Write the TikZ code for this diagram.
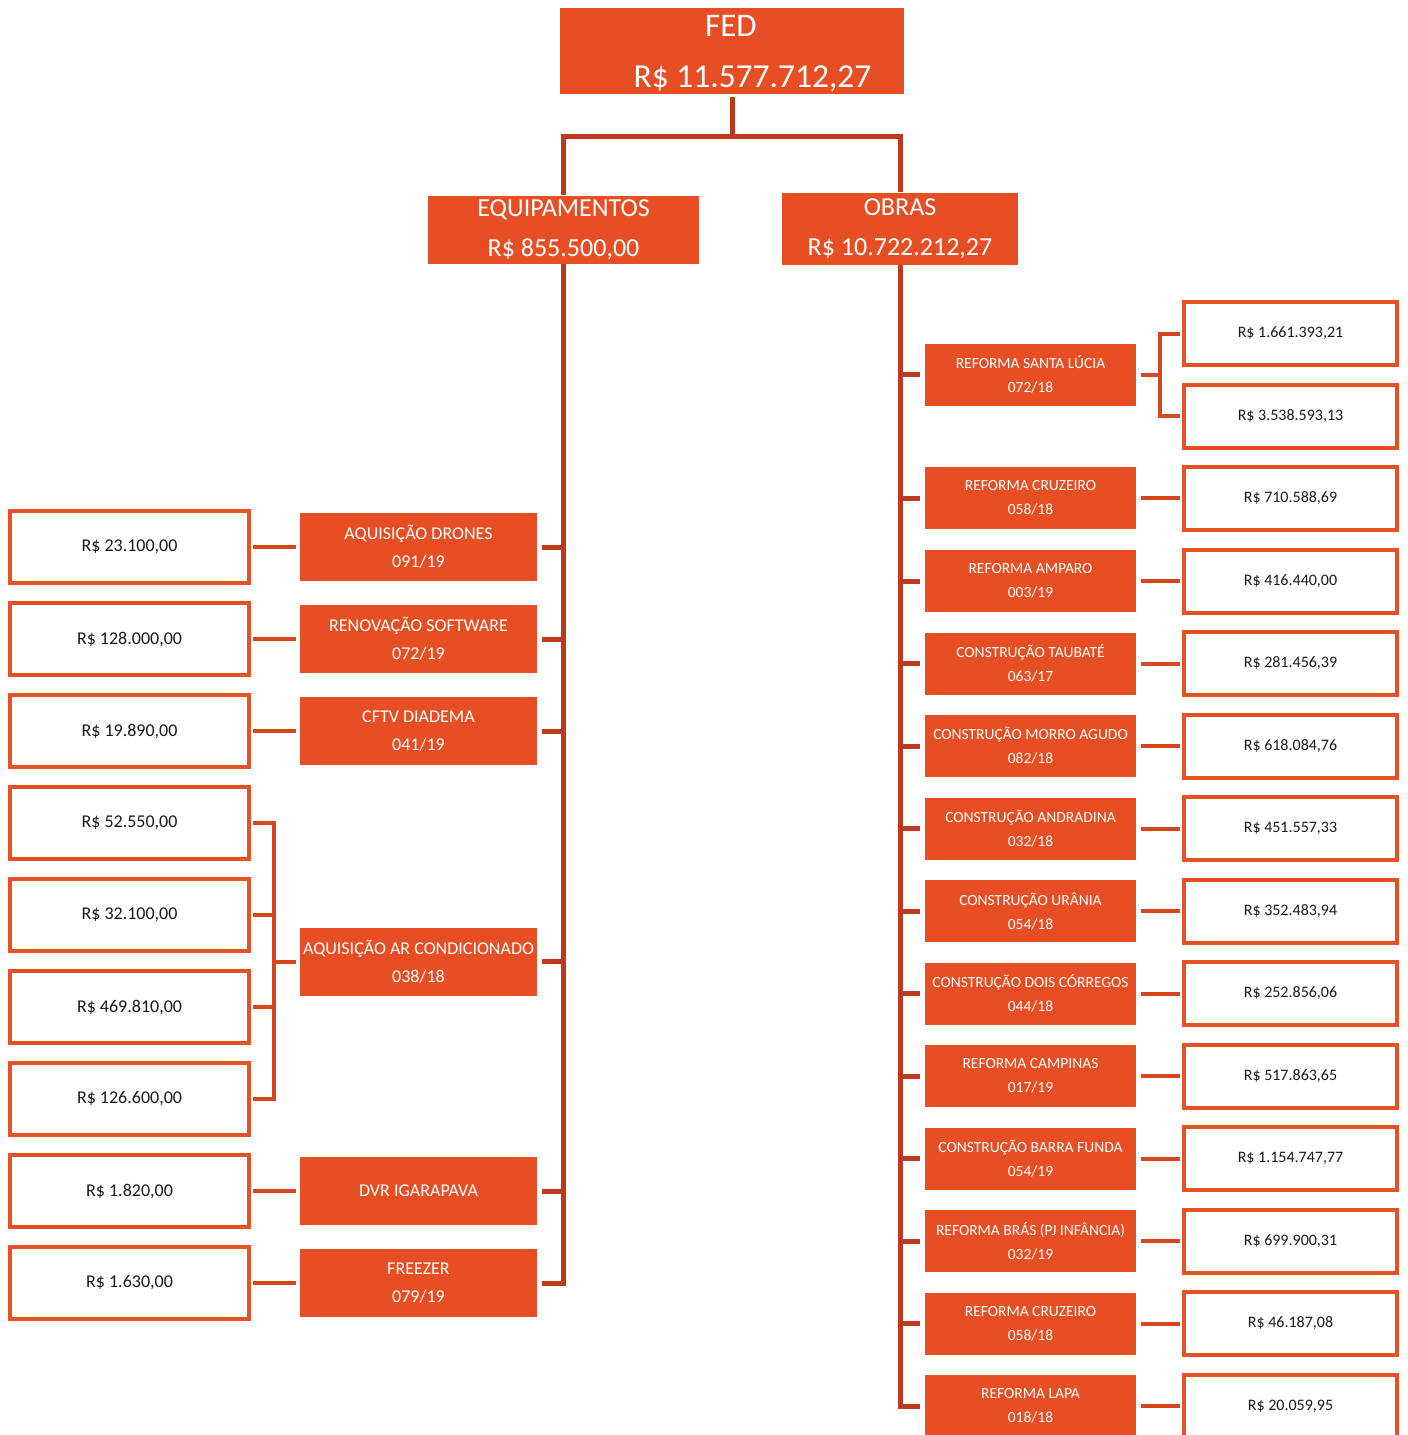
\documentclass[tikz,border=0pt]{standalone}
\usepackage{fontspec}
\setmainfont{Carlito}
\definecolor{org}{HTML}{E84E24}
\definecolor{orgline}{HTML}{E65226}
\definecolor{linkc}{HTML}{D6461F}
\definecolor{dark}{HTML}{BE3A1E}
\definecolor{txt}{HTML}{1A1A1A}
\begin{document}
\begin{tikzpicture}[x=1pt,y=-1pt,
  headbox/.style={fill=org, text=white, inner sep=0pt, align=center},
  lvlone/.style={headbox, font=\fontsize{26}{40}\selectfont},
  eqbox/.style={headbox, minimum width=237pt, minimum height=68pt, font=\fontsize{18}{28}\selectfont},
  obbox/.style={headbox, minimum width=211pt, minimum height=62pt, font=\fontsize{15.5}{24}\selectfont},
  lleaf/.style={draw=orgline, line width=4pt, fill=white, text=txt, inner sep=0pt, minimum width=239pt, minimum height=72pt, font=\fontsize{18}{22}\selectfont},
  rleaf/.style={draw=orgline, line width=4pt, fill=white, text=txt, inner sep=0pt, minimum width=213pt, minimum height=63pt, font=\fontsize{16}{20}\selectfont},
  trunk/.style={draw=dark, line width=5pt},
  stubline/.style={draw=dark, line width=5pt, shorten >=5pt},
  link/.style={draw=linkc, line width=4pt},
]
\useasboundingbox (0,0) rectangle (1408,1435);
\fill[white] (0,0) rectangle (1408,1435);
\clip (0,0) rectangle (1408,1435);

% ---------- top ----------
\node[headbox, minimum width=344pt, minimum height=86pt] (fed) at (732,51) {};
\node[text=white, anchor=base, inner sep=0pt, font=\fontsize{33}{33}\selectfont] (fedt) at (731,36) {FED};
\node[text=white, anchor=base, inner sep=0pt, font=\fontsize{33.5}{33}\selectfont] (fedv) at (752.5,87) {R\$ 11.577.712,27};

\node[lvlone, minimum width=271pt, minimum height=68pt] (equip) at (563.5,229.5) {EQUIPAMENTOS\\R\$ 855.500,00};
\node[lvlone, minimum width=236pt, minimum height=72pt] (obras) at (900,228.5) {OBRAS\\R\$ 10.722.212,27};

\coordinate (split) at (732,136);
\draw[trunk, shorten <=3pt] (fed.south) -- (split);
\draw[trunk] (equip.north) |- (split) -| (obras.north);

% ---------- left level 2 ----------
\node[eqbox] (drones) at (418.5,547) {AQUISIÇÃO DRONES\\091/19};
\node[eqbox] (soft) at (418.5,639) {RENOVAÇÃO SOFTWARE\\072/19};
\node[eqbox] (cftv) at (418.5,731) {CFTV DIADEMA\\041/19};
\node[eqbox] (ar) at (418.5,961.5) {AQUISIÇÃO AR CONDICIONADO\\038/18};
\node[eqbox] (dvr) at (418.5,1191) {DVR IGARAPAVA};
\node[eqbox] (freezer) at (418.5,1283) {FREEZER\\079/19};

% ---------- left leaves ----------
\node[lleaf] (v23) at (129.5,547) {R\$ 23.100,00};
\node[lleaf] (v128) at (129.5,639) {R\$ 128.000,00};
\node[lleaf] (v19) at (129.5,731) {R\$ 19.890,00};
\node[lleaf] (v52) at (129.5,823) {R\$ 52.550,00};
\node[lleaf] (v32) at (129.5,915) {R\$ 32.100,00};
\node[lleaf] (v469) at (129.5,1007) {R\$ 469.810,00};
\node[lleaf] (v126) at (129.5,1099) {R\$ 126.600,00};
\node[lleaf] (v1820) at (129.5,1191) {R\$ 1.820,00};
\node[lleaf] (v1630) at (129.5,1283) {R\$ 1.630,00};

% left trunk
\draw[trunk] (equip.south) -- (equip.south |- freezer.east) -- ([xshift=5pt]freezer.east);
\foreach \n in {drones,soft,cftv,ar,dvr}{
  \draw[stubline] (equip.south |- \n.east) -- (\n.east);
}
% left links
\foreach \a/\b in {drones/v23,soft/v128,cftv/v19,dvr/v1820,freezer/v1630}{
  \draw[link, shorten <=4pt, shorten >=2pt] (\a.west) -- (\b.east);
}
\coordinate (brL) at (274,961.5);
\draw[link, shorten <=2pt, shorten >=2pt] (v52.east) -| (brL) |- (v126.east);
\draw[link, shorten <=2pt] (v32.east) -- (v32.east -| brL);
\draw[link, shorten <=2pt] (v469.east) -- (v469.east -| brL);
\draw[link, shorten <=4pt] (ar.west) -- (brL);

% ---------- right level 2 ----------
\node[obbox] (sl) at (1030.5,374.5) {REFORMA SANTA LÚCIA\\072/18};
\node[obbox] (cruz) at (1030.5,498) {REFORMA CRUZEIRO\\058/18};
\node[obbox] (amp) at (1030.5,581) {REFORMA AMPARO\\003/19};
\node[obbox] (taub) at (1030.5,663.5) {CONSTRUÇÃO TAUBATÉ\\063/17};
\node[obbox] (morro) at (1030.5,746) {CONSTRUÇÃO MORRO AGUDO\\082/18};
\node[obbox] (andr) at (1030.5,828.5) {CONSTRUÇÃO ANDRADINA\\032/18};
\node[obbox] (uran) at (1030.5,911) {CONSTRUÇÃO URÂNIA\\054/18};
\node[obbox] (dois) at (1030.5,993.5) {CONSTRUÇÃO DOIS CÓRREGOS\\044/18};
\node[obbox] (camp) at (1030.5,1076) {REFORMA CAMPINAS\\017/19};
\node[obbox] (barra) at (1030.5,1158.5) {CONSTRUÇÃO BARRA FUNDA\\054/19};
\node[obbox] (bras) at (1030.5,1241) {REFORMA BRÁS (PJ INFÂNCIA)\\032/19};
\node[obbox] (cruz2) at (1030.5,1323.5) {REFORMA CRUZEIRO\\058/18};
\node[obbox] (lapa) at (1030.5,1406) {REFORMA LAPA\\018/18};

% ---------- right leaves ----------
\node[rleaf] (r1661) at (1290.5,333.5) {R\$ 1.661.393,21};
\node[rleaf] (r3538) at (1290.5,416) {R\$ 3.538.593,13};
\node[rleaf] (r710) at (1290.5,498) {R\$ 710.588,69};
\node[rleaf] (r416) at (1290.5,581) {R\$ 416.440,00};
\node[rleaf] (r281) at (1290.5,663.5) {R\$ 281.456,39};
\node[rleaf] (r618) at (1290.5,746) {R\$ 618.084,76};
\node[rleaf] (r451) at (1290.5,828.5) {R\$ 451.557,33};
\node[rleaf] (r352) at (1290.5,911) {R\$ 352.483,94};
\node[rleaf] (r252) at (1290.5,993.5) {R\$ 252.856,06};
\node[rleaf] (r517) at (1290.5,1076) {R\$ 517.863,65};
\node[rleaf] (r1154) at (1290.5,1158.5) {R\$ 1.154.747,77};
\node[rleaf] (r699) at (1290.5,1241) {R\$ 699.900,31};
\node[rleaf] (r46) at (1290.5,1323.5) {R\$ 46.187,08};
\node[rleaf] (r20) at (1290.5,1406) {R\$ 20.059,95};

% right trunk
\draw[trunk] (obras.south) -- (obras.south |- lapa.west) -- ([xshift=-5pt]lapa.west);
\foreach \n in {sl,cruz,amp,taub,morro,andr,uran,dois,camp,barra,bras,cruz2}{
  \draw[stubline] (obras.south |- \n.west) -- (\n.west);
}
% right links
\foreach \a/\b in {cruz/r710,amp/r416,taub/r281,morro/r618,andr/r451,uran/r352,dois/r252,camp/r517,barra/r1154,bras/r699,cruz2/r46,lapa/r20}{
  \draw[link, shorten <=5pt, shorten >=2pt] (\a.east) -- (\b.west);
}
\coordinate (brR) at (1160,374.5);
\draw[link, shorten <=2pt, shorten >=2pt] (r1661.west) -| (brR) |- (r3538.west);
\draw[link, shorten <=5pt] (sl.east) -- (brR);
\end{tikzpicture}
\end{document}
